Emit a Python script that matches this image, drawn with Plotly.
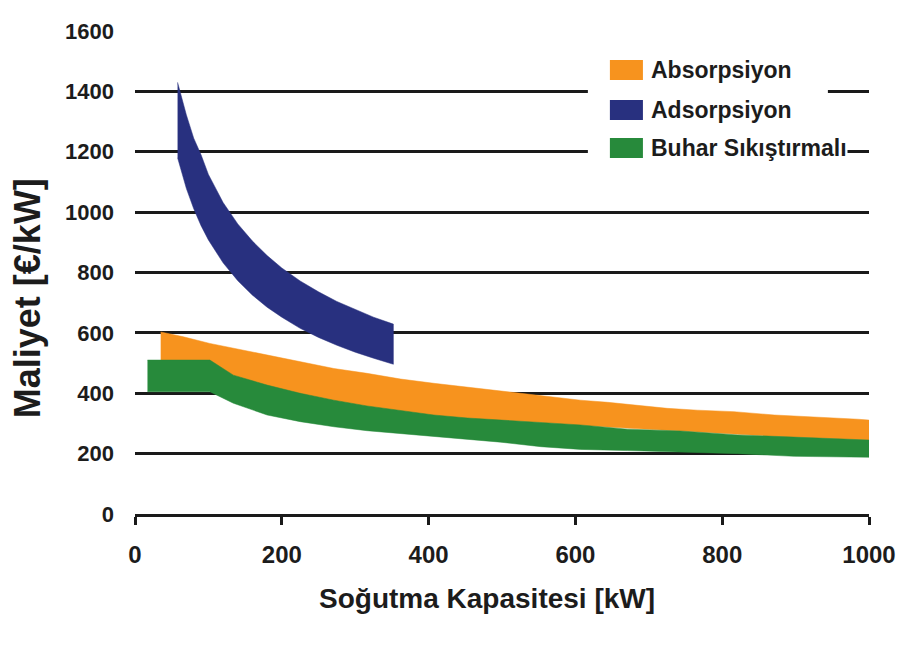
import plotly.graph_objects as go

# ---------------- data ----------------
series_names = ["Absorpsiyon", "Adsorpsiyon", "Buhar Sıkıştırmalı"]
series_colors = ["#F7931E", "#28307F", "#278A3B"]

# Absorpsiyon band (orange)
abs_x = [35, 66, 102, 134, 180, 225, 271, 316, 362, 407, 453, 498, 571, 607,
         644, 684, 725, 766, 816, 871, 926, 985, 1000]
abs_upper = [603, 587, 565, 549, 527, 504, 482, 466, 447, 433, 420, 408, 388,
             377, 370, 361, 350, 344, 339, 328, 322, 314, 311]
abs_lower = [500, 500, 500, 458, 425, 398, 375, 356, 340, 326, 316, 309, 300,
             293, 287, 283, 277, 272, 265, 257, 251, 246, 245]

# Adsorpsiyon band (navy)
ads_x = [58, 70, 80, 90, 100, 120, 140, 160, 180, 200, 225, 250, 275, 300, 325, 352]
ads_upper = [1430, 1322, 1245, 1190, 1125, 1032, 961, 904, 856, 815, 772, 736,
             704, 677, 652, 629]
ads_lower = [1180, 1078, 1011, 955, 908, 832, 773, 725, 685, 652, 615, 585,
             559, 536, 516, 496]

# Buhar Sıkıştırmalı band (green)
bs_x = [17, 102, 134, 180, 225, 271, 316, 362, 407, 453, 498, 553, 607, 671,
        743, 821, 898, 1000]
bs_upper = [510, 510, 460, 427, 400, 377, 358, 342, 328, 318, 311, 304, 295,
            281, 275, 262, 254, 245]
bs_lower = [405, 405, 367, 328, 306, 289, 276, 267, 256, 247, 238, 223, 214,
            210, 206, 200, 191, 188]

x_ticks = [0, 200, 400, 600, 800, 1000]
y_ticks = [0, 200, 400, 600, 800, 1000, 1200, 1400, 1600]

x_title = "Soğutma Kapasitesi [kW]"
y_title = "Maliyet [€/kW]"

FONT = "Liberation Sans, Arial, sans-serif"
TXT = "#1c1c1c"

fig = go.Figure()

bands = [
    (series_names[0], abs_x, abs_upper, abs_lower, series_colors[0]),
    (series_names[1], ads_x, ads_upper, ads_lower, series_colors[1]),
    (series_names[2], bs_x, bs_upper, bs_lower, series_colors[2]),
]
for name, xs, up, lo, col in bands:
    fig.add_trace(go.Scatter(
        x=list(xs) + list(xs)[::-1],
        y=list(up) + list(lo)[::-1],
        fill="toself", fillcolor=col, mode="lines",
        line=dict(color=col, width=0.5),
        name=name, showlegend=False, hoverinfo="skip",
    ))

# ---------------- custom legend (swatches + text) ----------------
shapes = [dict(type="rect", xref="paper", yref="paper", x0=0.617, x1=0.944,
               y0=0.7226, y1=0.9607, fillcolor="white", line=dict(width=0),
               layer="above")]
row_y = [(0.8986, 0.940), (0.8157, 0.857), (0.737, 0.7785)]
text_y = [0.919, 0.8364, 0.7578]
annotations = []
for i, name in enumerate(series_names):
    shapes.append(dict(type="rect", xref="paper", yref="paper", x0=0.647, x1=0.692,
                       y0=row_y[i][0], y1=row_y[i][1], fillcolor=series_colors[i],
                       line=dict(width=0), layer="above"))
    annotations.append(dict(xref="paper", yref="paper", x=0.7016, y=text_y[i],
                            xanchor="left", yanchor="middle", showarrow=False,
                            text=name, bgcolor="white", borderpad=0,
                            font=dict(family=FONT, size=23, color=TXT, weight="bold")))

# axis titles
annotations.append(dict(xref="paper", yref="paper", x=0.4796, y=-0.174,
                        xanchor="center", yanchor="middle", showarrow=False,
                        text=x_title,
                        font=dict(family=FONT, size=28, color=TXT, weight="bold")))
annotations.append(dict(xref="paper", yref="paper", x=-0.147, y=0.447,
                        xanchor="center", yanchor="middle", showarrow=False,
                        text=y_title, textangle=-90,
                        font=dict(family=FONT, size=36, color=TXT, weight="bold")))

# gridline at 200 appears grey in the reference
shapes.append(dict(type="line", xref="paper", yref="y", x0=0, x1=1, y0=200, y1=200,
                   line=dict(color="#8a8a8a", width=2.5), layer="between"))

fig.update_layout(
    width=908, height=648,
    margin=dict(l=127, r=47, t=23, b=142, autoexpand=False),
    paper_bgcolor="white", plot_bgcolor="white",
    showlegend=False,
    shapes=shapes, annotations=annotations,
    font=dict(family=FONT, color=TXT),
)

fig.update_xaxes(
    range=[0, 1000], tickvals=x_ticks, showgrid=False, zeroline=False,
    showline=True, linecolor="#1a1a1a", linewidth=2.5,
    ticks="outside", ticklen=8, tickwidth=2.5, tickcolor="#1a1a1a",
    ticklabelstandoff=9,
    tickfont=dict(family=FONT, size=24, color=TXT, weight="bold"),
    automargin=False,
)
fig.update_yaxes(
    range=[0, 1600], tickvals=y_ticks, showgrid=True, gridcolor="#1a1a1a",
    gridwidth=2.5, zeroline=False, showline=False, ticks="",
    ticklabelstandoff=20,
    tickfont=dict(family=FONT, size=22, color=TXT, weight="bold"),
    automargin=False,
)

fig.write_html("out.html")
